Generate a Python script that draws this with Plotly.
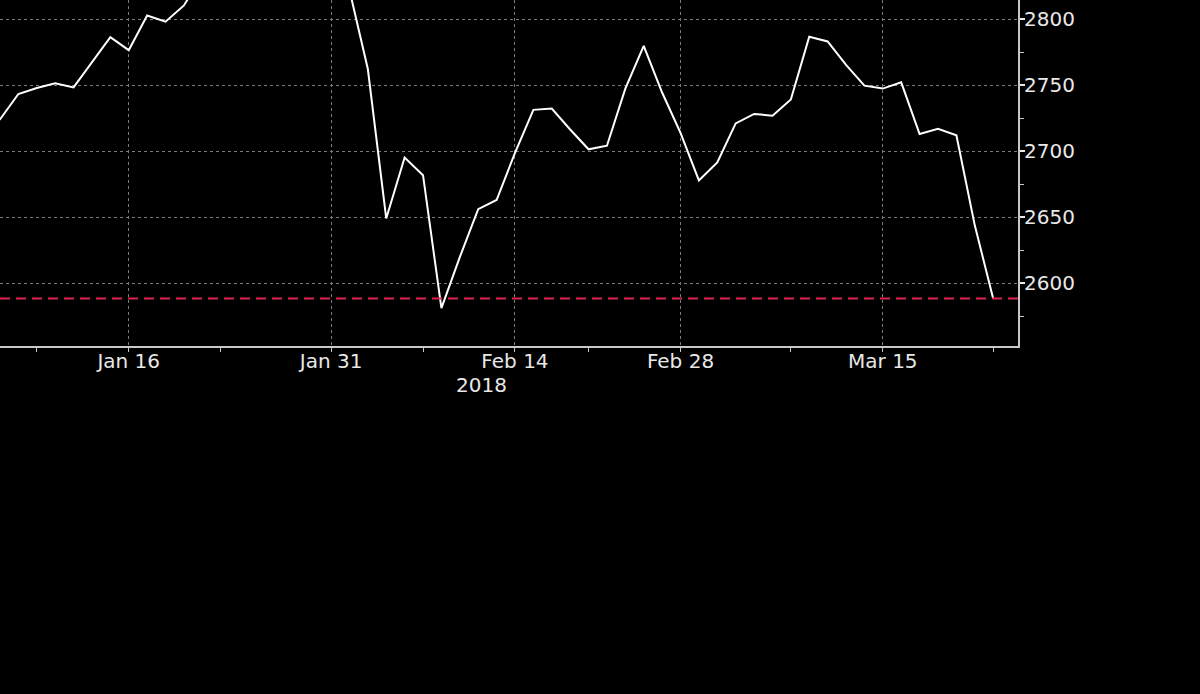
import plotly.graph_objects as go

# S&P 500 daily closes, Jan - Mar 2018
dates = [
    "2018-01-02", "2018-01-03", "2018-01-04", "2018-01-05", "2018-01-08",
    "2018-01-09", "2018-01-10", "2018-01-11", "2018-01-12", "2018-01-16",
    "2018-01-17", "2018-01-18", "2018-01-19", "2018-01-22", "2018-01-23",
    "2018-01-24", "2018-01-25", "2018-01-26", "2018-01-29", "2018-01-30",
    "2018-01-31", "2018-02-01", "2018-02-02", "2018-02-05", "2018-02-06",
    "2018-02-07", "2018-02-08", "2018-02-09", "2018-02-12", "2018-02-13",
    "2018-02-14", "2018-02-15", "2018-02-16", "2018-02-20", "2018-02-21",
    "2018-02-22", "2018-02-23", "2018-02-26", "2018-02-27", "2018-02-28",
    "2018-03-01", "2018-03-02", "2018-03-05", "2018-03-06", "2018-03-07",
    "2018-03-08", "2018-03-09", "2018-03-12", "2018-03-13", "2018-03-14",
    "2018-03-15", "2018-03-16", "2018-03-19", "2018-03-20", "2018-03-21",
    "2018-03-22", "2018-03-23",
]
closes = [
    2695.8, 2713.1, 2724.0, 2743.2, 2747.7,
    2751.3, 2748.2, 2767.6, 2786.2, 2776.4,
    2802.6, 2798.0, 2810.3, 2833.0, 2839.1,
    2837.5, 2839.3, 2872.9, 2853.5, 2822.4,
    2823.8, 2822.0, 2762.1, 2648.9, 2695.1,
    2681.7, 2581.0, 2619.6, 2656.0, 2662.9,
    2698.6, 2731.2, 2732.2, 2716.3, 2701.3,
    2704.0, 2747.3, 2779.6, 2744.3, 2713.8,
    2677.7, 2691.3, 2720.9, 2728.1, 2726.8,
    2739.0, 2786.6, 2783.0, 2765.3, 2749.5,
    2747.3, 2752.0, 2712.9, 2716.9, 2711.9,
    2643.7, 2588.3,
]

holidays = ["2018-01-15", "2018-02-19"]
tick_dates = ["2018-01-16", "2018-01-31", "2018-02-14", "2018-02-28", "2018-03-15"]
tick_labels = ["Jan 16", "Jan 31", "Feb 14", "Feb 28", "Mar 15"]
minor_dates = ["2018-01-08", "2018-01-23", "2018-02-07", "2018-02-21", "2018-03-08", "2018-03-23"]

fg = "#e8e8e8"
axis_col = "#c8c8c8"
grid_col = "#7a7a7a"

fig = go.Figure()

fig.add_trace(go.Scatter(x=dates, y=closes, mode="lines",
                         line=dict(color="white", width=2), showlegend=False))

# dashed marker at the latest close
fig.add_hline(y=closes[-1], line=dict(color="#e0244f", width=2, dash="10px,6px"))

fig.add_annotation(text="2018", xref="paper", yref="paper", x=0.4725, y=0,
                   yshift=-39, showarrow=False, font=dict(size=20, color=fg),
                   yanchor="middle")

fig.update_xaxes(
    range=["2018-01-04", "2018-03-26 08:24"],
    rangebreaks=[dict(bounds=["sat", "mon"]), dict(values=holidays)],
    tickmode="array", tickvals=tick_dates, ticktext=tick_labels,
    ticks="outside", ticklen=4, tickwidth=1, tickcolor=axis_col,
    ticklabelstandoff=-8,
    showline=True, linecolor=axis_col, linewidth=2,
    showgrid=True, gridcolor=grid_col, gridwidth=1, griddash="dot",
    minor=dict(tickmode="array", tickvals=minor_dates, ticks="outside",
               ticklen=4, tickwidth=1, tickcolor=axis_col, showgrid=False),
    tickfont=dict(size=20, color=fg),
    zeroline=False,
)

fig.update_yaxes(
    side="right", range=[2552.3, 2814.4],
    tickmode="linear", tick0=2600, dtick=50,
    ticks="outside", ticklen=5, tickwidth=2, tickcolor=fg,
    ticklabelstandoff=-5,
    showline=True, linecolor=axis_col, linewidth=2,
    showgrid=True, gridcolor=grid_col, gridwidth=1, griddash="dot",
    minor=dict(dtick=25, ticks="outside", ticklen=4, tickwidth=1,
               tickcolor=axis_col, showgrid=False),
    tickfont=dict(size=20, color=fg),
    zeroline=False,
)

fig.update_layout(
    width=1200, height=694,
    margin=dict(l=0, r=182, t=0, b=348),
    paper_bgcolor="black", plot_bgcolor="black",
    font=dict(family="DejaVu Sans", color=fg),
)

fig.write_html("out.html", config={"displayModeBar": False},
               post_script="document.body.style.margin='0';document.body.style.background='black';")
